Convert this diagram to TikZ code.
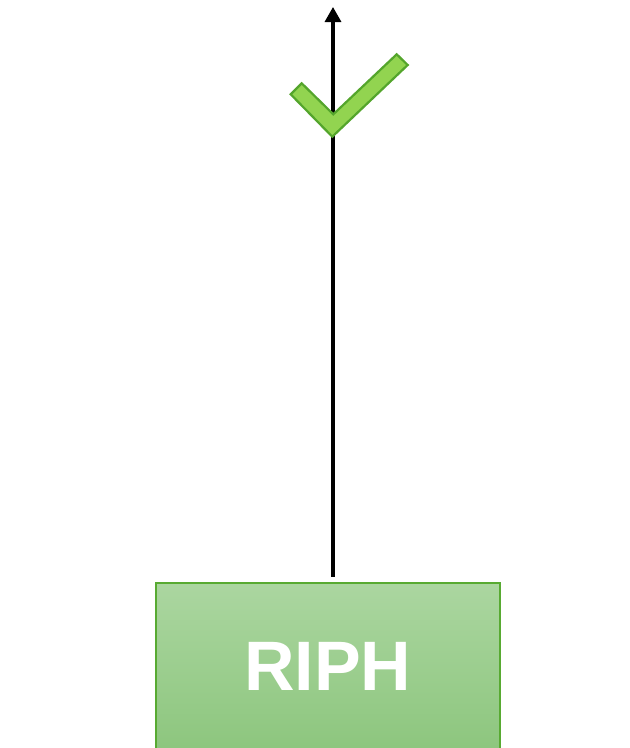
\documentclass[tikz,border=0pt]{standalone}
\usepackage{fontspec}
\setmainfont{Liberation Sans}
\usetikzlibrary{arrows.meta,calc}
\definecolor{boxtop}{RGB}{171,214,160}
\definecolor{boxbot}{RGB}{141,198,126}
\definecolor{boxedge}{RGB}{88,170,50}
\definecolor{checkfill}{RGB}{146,212,80}
\definecolor{checkedge}{RGB}{84,165,44}
\tikzset{
  riphbox/.style={draw=boxedge, line width=2.2pt, top color=boxtop, bottom color=boxbot,
    minimum width=344pt, minimum height=167pt, inner sep=0pt,
    font=\fontsize{70}{70}\selectfont\bfseries, text=white},
  uparrow/.style={line width=3.2pt, -{Triangle[length=15pt,width=16pt]}},
  checkstyle/.style={fill=checkfill, draw=checkedge, line width=2.2pt, line join=miter}
}
\begin{document}
\begin{tikzpicture}[x=1pt,y=-1pt]
\useasboundingbox (0,0) rectangle (630,748);
\node[riphbox] (box) at (327.75,666.5) {RIPH};
\coordinate (tip) at (333,7);
\draw[uparrow] ($(box.north -| tip)+(0,-5)$) -- (tip);
\draw[checkstyle] (301.7,83.3) -- (290.7,94.3) -- (332.3,136.7) -- (407.7,65) -- (396.7,54.3) -- (333.3,114.3) -- cycle;
\end{tikzpicture}
\end{document}
